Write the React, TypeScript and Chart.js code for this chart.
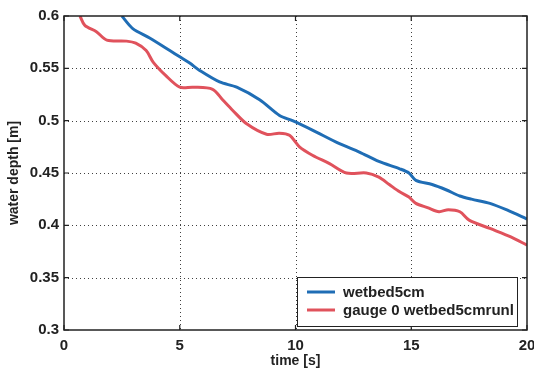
import React, { useEffect, useRef } from "react";
import { Chart, registerables } from "chart.js";

Chart.register(...registerables);

const blueT = [2.5, 2.97, 3.7, 4.57, 5.0, 5.43, 5.86, 6.72, 7.46, 8.45, 9.31, 9.87, 10.73, 11.9, 12.76, 13.6, 14.5, 14.9, 15.2, 15.9, 16.5, 17.1, 17.6, 18.4, 19.2, 20.0];
const blueV = [0.600, 0.588, 0.579, 0.567, 0.561, 0.555, 0.548, 0.537, 0.532, 0.520, 0.505, 0.500, 0.491, 0.478, 0.470, 0.461, 0.454, 0.450, 0.443, 0.439, 0.434, 0.428, 0.425, 0.421, 0.414, 0.406];

const redT = [0.69, 0.9, 1.4, 1.85, 2.7, 3.1, 3.55, 3.85, 4.4, 5.0, 5.57, 6.42, 6.85, 7.28, 7.89, 8.75, 9.3, 9.74, 10.17, 10.73, 11.47, 12.2, 13.06, 13.6, 14.05, 14.5, 14.9, 15.2, 15.7, 16.2, 16.6, 17.1, 17.5, 18.4, 19.3, 20.0];
const redV = [0.600, 0.591, 0.585, 0.577, 0.576, 0.574, 0.567, 0.556, 0.543, 0.532, 0.532, 0.530, 0.520, 0.510, 0.497, 0.487, 0.488, 0.486, 0.475, 0.467, 0.459, 0.450, 0.450, 0.446, 0.439, 0.432, 0.427, 0.421, 0.417, 0.413, 0.415, 0.413, 0.405, 0.397, 0.389, 0.381];

const xTicks = [0, 5, 10, 15, 20];
const yTicks = [0.3, 0.35, 0.4, 0.45, 0.5, 0.55, 0.6];
const seriesNames = ["wetbed5cm", "gauge 0 wetbed5cmrunl"];
const seriesColors = ["#1f6db5", "#e0525c"];
const xTitle = "time [s]";
const yTitle = "water depth [m]";

const FONT = "'Liberation Sans', Arial, Helvetica, sans-serif";

const framePlugin = {
  id: "matlabFrame",
  beforeDatasetsDraw(chart: any) {
    const { ctx, chartArea: a, scales } = chart;
    ctx.save();
    ctx.strokeStyle = "rgba(0,0,0,0.75)";
    ctx.lineWidth = 1;
    ctx.setLineDash([1, 3]);
    xTicks.slice(1, -1).forEach((t) => {
      const x = Math.round(scales.x.getPixelForValue(t)) + 0.5;
      ctx.beginPath();
      ctx.moveTo(x, a.top);
      ctx.lineTo(x, a.bottom);
      ctx.stroke();
    });
    yTicks.slice(1, -1).forEach((v) => {
      const y = Math.round(scales.y.getPixelForValue(v)) + 0.5;
      ctx.beginPath();
      ctx.moveTo(a.left, y);
      ctx.lineTo(a.right, y);
      ctx.stroke();
    });
    ctx.restore();
  },
  afterDatasetsDraw(chart: any) {
    const { ctx, chartArea: a, scales } = chart;
    ctx.save();
    ctx.setLineDash([]);
    ctx.strokeStyle = "#222";
    ctx.lineWidth = 1.5;
    ctx.strokeRect(a.left, a.top, a.right - a.left, a.bottom - a.top);
    ctx.lineWidth = 1.2;
    const tl = 5;
    xTicks.forEach((t) => {
      const x = scales.x.getPixelForValue(t);
      ctx.beginPath();
      ctx.moveTo(x, a.bottom);
      ctx.lineTo(x, a.bottom - tl);
      ctx.moveTo(x, a.top);
      ctx.lineTo(x, a.top + tl);
      ctx.stroke();
    });
    yTicks.forEach((v) => {
      const y = scales.y.getPixelForValue(v);
      ctx.beginPath();
      ctx.moveTo(a.left, y);
      ctx.lineTo(a.left + tl, y);
      ctx.moveTo(a.right, y);
      ctx.lineTo(a.right - tl, y);
      ctx.stroke();
    });

    // legend box
    const bx = a.right - 230;
    const by = a.bottom - 53;
    const bw = 220;
    const bh = 49;
    ctx.fillStyle = "#fff";
    ctx.fillRect(bx, by, bw, bh);
    ctx.strokeStyle = "#222";
    ctx.lineWidth = 1;
    ctx.strokeRect(bx + 0.5, by + 0.5, bw, bh);
    ctx.font = "bold 15px " + FONT;
    ctx.textBaseline = "middle";
    ctx.textAlign = "left";
    seriesNames.forEach((name, i) => {
      const y = by + 15 + i * 18;
      ctx.strokeStyle = seriesColors[i];
      ctx.lineWidth = 3;
      ctx.beginPath();
      ctx.moveTo(bx + 10, y);
      ctx.lineTo(bx + 38, y);
      ctx.stroke();
      ctx.fillStyle = "#222";
      ctx.fillText(name, bx + 46, y + 1);
    });
    ctx.restore();
  },
};

export default function App() {
  const ref = useRef<HTMLCanvasElement | null>(null);
  useEffect(() => {
    if (!ref.current) return;
    const chart = new Chart(ref.current, {
      type: "line",
      data: {
        datasets: [
          {
            label: seriesNames[0],
            data: blueT.map((t, i) => ({ x: t, y: blueV[i] })),
            borderColor: seriesColors[0],
            borderWidth: 3,
            pointRadius: 0,
            tension: 0.3,
            fill: false,
          },
          {
            label: seriesNames[1],
            data: redT.map((t, i) => ({ x: t, y: redV[i] })),
            borderColor: seriesColors[1],
            borderWidth: 3,
            pointRadius: 0,
            tension: 0.3,
            fill: false,
          },
        ],
      },
      options: {
        responsive: false,
        animation: false,
        layout: { padding: { left: 0, top: 16, right: 7, bottom: 0 } },
        plugins: { legend: { display: false }, tooltip: { enabled: false } },
        scales: {
          x: {
            type: "linear",
            min: 0,
            max: 20,
            afterBuildTicks: (s: any) => {
              s.ticks = xTicks.map((v) => ({ value: v }));
            },
            afterFit: (s: any) => {
              s.height = 47;
              s.paddingLeft = 0;
              s.paddingRight = 0;
            },
            grid: { display: false, drawTicks: false },
            border: { display: false },
            ticks: {
              padding: 7,
              color: "#222",
              font: { family: FONT, size: 15, weight: "bold" },
              maxRotation: 0,
              autoSkip: false,
            },
            title: {
              display: true,
              text: xTitle,
              color: "#222",
              font: { family: FONT, size: 14, weight: "bold" },
              padding: { top: 0, bottom: 7 },
            },
          },
          y: {
            type: "linear",
            min: 0.3,
            max: 0.6,
            afterBuildTicks: (s: any) => {
              s.ticks = yTicks.map((v) => ({ value: v }));
            },
            afterFit: (s: any) => {
              s.width = 64;
              s.paddingTop = 0;
              s.paddingBottom = 0;
            },
            grid: { display: false, drawTicks: false },
            border: { display: false },
            ticks: {
              padding: 5,
              color: "#222",
              font: { family: FONT, size: 15, weight: "bold" },
              autoSkip: false,
              callback: (v: any) => String(Number(v)),
            },
            title: {
              display: true,
              text: yTitle,
              color: "#222",
              font: { family: FONT, size: 14, weight: "bold" },
              padding: { top: 6, bottom: 0 },
            },
          },
        },
      },
      plugins: [framePlugin],
    });
    return () => chart.destroy();
  }, []);
  return (
    <div style={{ position: "absolute", left: 0, top: 0, width: 534, height: 377, background: "#fff" }}>
      <canvas ref={ref} width={534} height={377} />
    </div>
  );
}
